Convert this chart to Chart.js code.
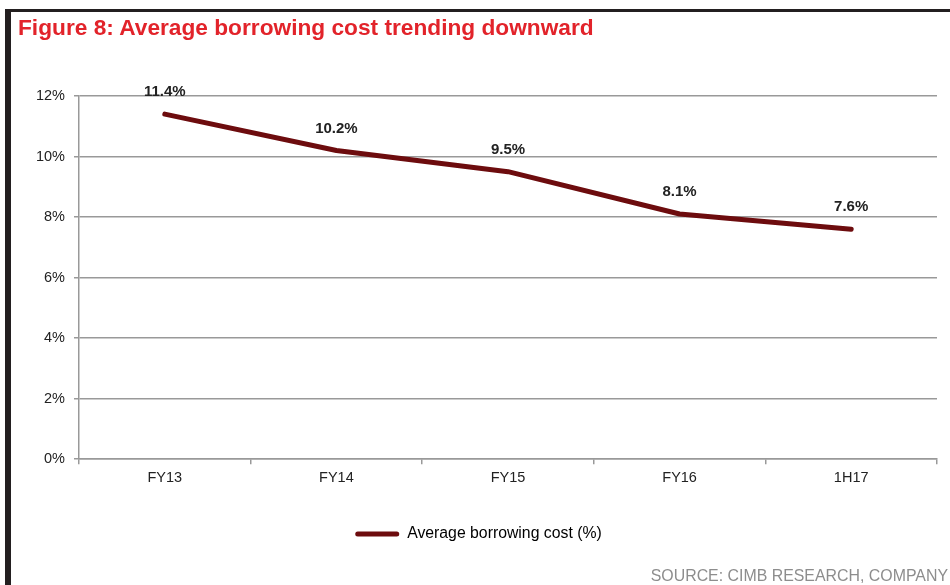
<!DOCTYPE html>
<html>
<head>
<meta charset="utf-8">
<script src="https://cdn.jsdelivr.net/npm/chart.js@4.4.1/dist/chart.umd.min.js"></script>
<style>
  html, body { margin: 0; padding: 0; background: #fff; }
  #wrap { position: relative; width: 950px; height: 585px; overflow: hidden; font-family: "Liberation Sans", Arial, sans-serif; }
  #topbar { position: absolute; left: 5px; top: 9px; width: 945px; height: 3px; background: #231f20; }
  #leftbar { position: absolute; left: 5px; top: 9px; width: 6px; height: 576px; background: #231f20; }
  #title { position: absolute; left: 18px; top: 14px; font-size: 22.7px; font-weight: bold; color: #e2232a; white-space: nowrap; }
  #source { position: absolute; right: 2px; top: 567px; font-size: 15.9px; color: #8d8d8d; white-space: nowrap; }
  #cv { position: absolute; left: 0; top: 0; }
</style>
</head>
<body>
<div id="wrap">
  <div id="topbar"></div>
  <div id="leftbar"></div>
  <canvas id="cv" width="950" height="585"></canvas>
  <div id="title">Figure 8: Average borrowing cost trending downward</div>
  <div id="source">SOURCE: CIMB RESEARCH, COMPANY</div>
</div>
<script>
const categories = ["FY13", "FY14", "FY15", "FY16", "1H17"];
const borrowingCost = [11.4, 10.2, 9.5, 8.1, 7.6];
const seriesName = "Average borrowing cost (%)";
const yTicks = [0, 2, 4, 6, 8, 10, 12];

const FONT = '"Liberation Sans", Arial, sans-serif';
const LINE_COLOR = '#6d0c0e';

const dataLabels = {
  id: 'dataLabels',
  afterDatasetsDraw(chart) {
    const ctx = chart.ctx;
    const meta = chart.getDatasetMeta(0);
    ctx.save();
    ctx.font = 'bold 15px ' + FONT;
    ctx.fillStyle = '#222';
    ctx.textAlign = 'center';
    ctx.textBaseline = 'middle';
    meta.data.forEach((pt, i) => {
      ctx.fillText(borrowingCost[i].toFixed(1) + '%', pt.x, pt.y - 22);
    });
    ctx.restore();
  }
};

new Chart(document.getElementById('cv'), {
  type: 'line',
  data: {
    labels: categories,
    datasets: [{
      label: seriesName,
      data: borrowingCost,
      borderColor: LINE_COLOR,
      backgroundColor: LINE_COLOR,
      borderWidth: 5,
      tension: 0,
      borderJoinStyle: 'round',
      borderCapStyle: 'round',
      pointRadius: 0,
      pointHoverRadius: 0,
      fill: false
    }]
  },
  options: {
    responsive: false,
    animation: false,
    events: [],
    layout: { padding: { top: 96, left: 20, right: 13, bottom: 33 } },
    plugins: {
      tooltip: { enabled: false },
      legend: {
        position: 'bottom',
        align: 'center',
        labels: {
          font: { family: FONT, size: 15.8 },
          color: '#222',
          boxWidth: 44,
          boxHeight: 5,
          padding: 36,
          useBorderRadius: true,
          borderRadius: 2.5,
          generateLabels: (chart) => [{
            text: seriesName,
            fillStyle: LINE_COLOR,
            strokeStyle: LINE_COLOR,
            lineWidth: 0,
            borderRadius: 2.5,
            datasetIndex: 0,
            hidden: false
          }]
        }
      }
    },
    scales: {
      x: {
        offset: true,
        grid: { offset: true, drawOnChartArea: false, drawTicks: true, tickLength: 5, color: '#999', lineWidth: 1.5 },
        border: { color: '#999', width: 1.5 },
        ticks: { font: { family: FONT, size: 14.5 }, color: '#222', padding: 5, maxRotation: 0 },
        afterFit: (s) => { s.height = 31; }
      },
      y: {
        min: 0,
        max: 12,
        afterBuildTicks: (s) => { s.ticks = yTicks.map(v => ({ value: v })); },
        grid: { color: '#999', lineWidth: 1.5, tickLength: 5 },
        border: { color: '#999', width: 1.5 },
        ticks: { font: { family: FONT, size: 14.5 }, color: '#222', padding: 9, callback: (v) => v + '%' },
        afterFit: (s) => { s.width = 59; }
      }
    }
  },
  plugins: [dataLabels]
});
</script>
</body>
</html>
